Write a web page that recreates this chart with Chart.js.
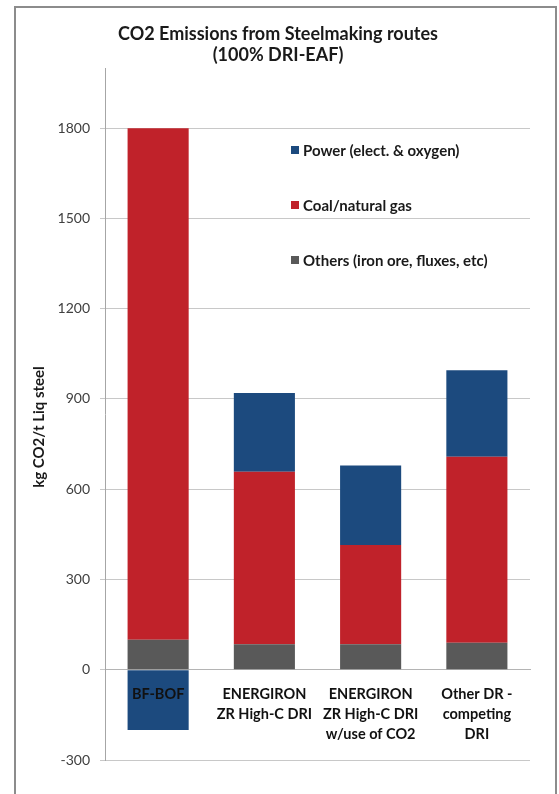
<!DOCTYPE html>
<html>
<head>
<meta charset="utf-8">
<script src="https://cdn.jsdelivr.net/npm/chart.js@4"></script>
<style>
  html, body { margin: 0; padding: 0; background: #fff; }
  #wrap { position: relative; width: 559px; height: 794px; overflow: hidden; }
  #frame { position: absolute; left: 14px; top: 6px; width: 543px; height: 840px; border: 2px solid #8c8c8c; box-sizing: border-box; pointer-events: none; }
  canvas { position: absolute; left: 0; top: 0; }
</style>
</head>
<body>
<div id="wrap">
  <canvas id="chart" width="559" height="794"></canvas>
  <div id="frame"></div>
</div>
<script>
const titleLines = ['CO2 Emissions from Steelmaking routes', '(100% DRI-EAF)']
const yTitle = 'kg CO2/t Liq steel'

const categories = [
  ['BF-BOF'],
  ['ENERGIRON', 'ZR High-C DRI'],
  ['ENERGIRON', 'ZR High-C DRI', 'w/use of CO2'],
  ['Other DR -', 'competing', 'DRI']
]

// stacked bottom to top
const others = [100, 85, 85, 90]
const coalGas = [1700, 573, 330, 618]
const power = [-200, 262, 264, 287]

const seriesNames = ['Others (iron ore, fluxes, etc)', 'Coal/natural gas', 'Power (elect. & oxygen)']
const seriesColors = ['#595959', '#c0222a', '#1c4a7e']

const yMin = -300
const yMax = 2000
const yStep = 300

const FONT = 'Lato, "Open Sans", sans-serif'

// title, y axis title and the legend inside the plot
const extraText = {
  id: 'extraText',
  afterDraw (chart) {
    const ctx = chart.ctx
    ctx.save()
    ctx.fillStyle = '#1a1a1a'
    ctx.textAlign = 'center'
    ctx.textBaseline = 'middle'
    ctx.font = `bold 18px ${FONT}`
    titleLines.forEach((t, i) => ctx.fillText(t, 278, 34 + i * 21))

    ctx.save()
    ctx.translate(39, 427)
    ctx.rotate(-Math.PI / 2)
    ctx.font = `bold 15px ${FONT}`
    ctx.fillText(yTitle, 0, 0)
    ctx.restore()

    // legend, top series first
    ctx.textAlign = 'left'
    ctx.font = `bold 15px ${FONT}`
    const sets = chart.data.datasets.slice().reverse()
    sets.forEach((ds, i) => {
      const y = 150 + i * 55
      ctx.fillStyle = ds.backgroundColor
      ctx.fillRect(291, y - 4, 8, 8)
      ctx.fillStyle = '#1a1a1a'
      ctx.fillText(ds.label, 303, y + 1)
    })
    ctx.restore()
  }
}

const ctx = document.getElementById('chart').getContext('2d')
const chart = new Chart(ctx, {
  type: 'bar',
  data: {
    labels: categories,
    datasets: [
      { label: seriesNames[0], data: others, backgroundColor: seriesColors[0] },
      { label: seriesNames[1], data: coalGas, backgroundColor: seriesColors[1] },
      { label: seriesNames[2], data: power, backgroundColor: seriesColors[2] }
    ]
  },
  options: {
    responsive: false,
    animation: false,
    layout: { padding: { left: 0, right: 29, top: 68, bottom: 34 } },
    datasets: {
      bar: { categoryPercentage: 1, barPercentage: 0.575, borderWidth: 0 }
    },
    plugins: {
      legend: { display: false },
      title: { display: false },
      tooltip: { enabled: false }
    },
    scales: {
      x: {
        stacked: true,
        position: { y: 0 },
        grid: { display: false },
        border: { display: true, color: '#b4b4b4', width: 1 },
        ticks: {
          z: 1,
          color: '#111',
          font: { family: FONT, size: 14.5, weight: 'bold', lineHeight: 1.38 },
          padding: 7,
          maxRotation: 0,
          autoSkip: false
        }
      },
      y: {
        stacked: true,
        min: yMin,
        max: yMax,
        afterFit: (scale) => { scale.width = 105 },
        afterBuildTicks: (scale) => { scale.ticks = scale.ticks.filter(t => t.value <= 1800) },
        grid: { color: '#c8c8c8', lineWidth: 1, tickLength: 5, drawTicks: true },
        border: { display: true, color: '#a6a6a6', width: 1 },
        ticks: {
          stepSize: yStep,
          color: '#404040',
          padding: 10,
          font: { family: FONT, size: 14 },
          callback: (v) => String(v)
        }
      }
    }
  },
  plugins: [extraText]
})
</script>
</body>
</html>
